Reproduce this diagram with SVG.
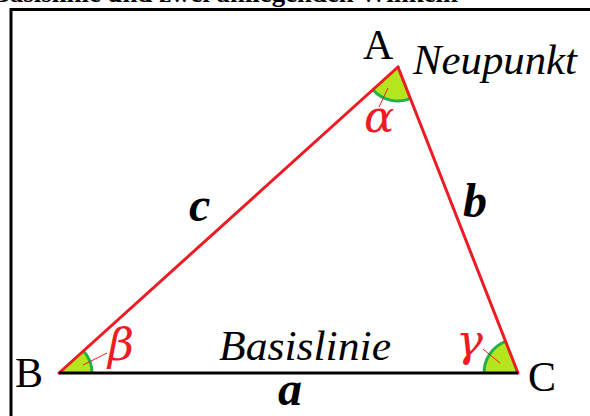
<svg xmlns="http://www.w3.org/2000/svg" width="590" height="416" viewBox="0 0 590 416">
<style>
.serif{font-family:"Liberation Serif","Times New Roman",serif}
.lbl{font-size:42px;fill:#000}
.it{font-style:italic}
.side{font-style:italic;font-weight:bold;font-size:48px;fill:#000}
.greek{font-family:"DejaVu Serif","Liberation Serif",serif;font-style:italic;font-size:45px;fill:#ed1c24}
.wedge{fill:#b5e61d;stroke:none}
.arc{fill:none;stroke:#22b14c;stroke-width:3}
.tick{stroke:#ed1c24;stroke-width:1}
.red{stroke:#ed1c24;stroke-width:3;fill:none;stroke-linecap:round}
</style>
<rect width="590" height="416" fill="#fff"/>
<text class="serif" x="-8" y="2" font-size="26" font-weight="bold" textLength="466" lengthAdjust="spacingAndGlyphs">Basislinie und zwei anliegenden Winkeln</text>
<polyline points="11,416 11,9.5 590,9.5" fill="none" stroke="#000" stroke-width="3"/>
<g id="angleA">
<path class="wedge" d="M398,67 L372.8,89.8 A34,34 0 0 0 410.4,98.7 Z"/>
<path class="arc" d="M372.8,89.8 A34,34 0 0 0 410.4,98.7"/>
<line class="tick" x1="388" y1="88" x2="379" y2="107"/>
</g>
<g id="angleB">
<path class="wedge" d="M59,373 L92,373 A33,33 0 0 0 83.5,350.9 Z"/>
<path class="arc" d="M92,373 A33,33 0 0 0 83.5,350.9"/>
<line class="tick" x1="83" y1="365" x2="107" y2="353"/>
</g>
<g id="angleC">
<path class="wedge" d="M518,373 L484,373 A34,34 0 0 1 505.6,341.3 Z"/>
<path class="arc" d="M484,373 A34,34 0 0 1 505.6,341.3"/>
<line class="tick" x1="500" y1="363" x2="483" y2="349"/>
</g>
<g id="connectors">
<line class="red" x1="59" y1="373" x2="398" y2="67"/>
<line class="red" x1="398" y1="67" x2="518" y2="373"/>
<line x1="59" y1="373" x2="518" y2="373" stroke="#000" stroke-width="3"/>
</g>
<g id="nodeA">
<text class="serif lbl" x="363" y="59">A</text>
<text class="serif lbl it" x="413" y="74" textLength="164" lengthAdjust="spacingAndGlyphs">Neupunkt</text>
<text class="greek" x="364" y="132">α</text>
</g>
<g id="nodeB">
<text class="serif lbl" x="15" y="387" font-size="44">B</text>
<text class="greek" x="108" y="360">β</text>
</g>
<g id="nodeC">
<text class="serif lbl" x="528" y="391" font-size="44">C</text>
<text class="greek" x="456" y="356">γ</text>
</g>
<g id="labels">
<text class="serif side" x="189" y="221">c</text>
<text class="serif side" x="463" y="217">b</text>
<text class="serif side" x="278" y="405">a</text>
<text class="serif lbl it" x="219" y="360" textLength="172" lengthAdjust="spacingAndGlyphs">Basislinie</text>
</g>
</svg>
